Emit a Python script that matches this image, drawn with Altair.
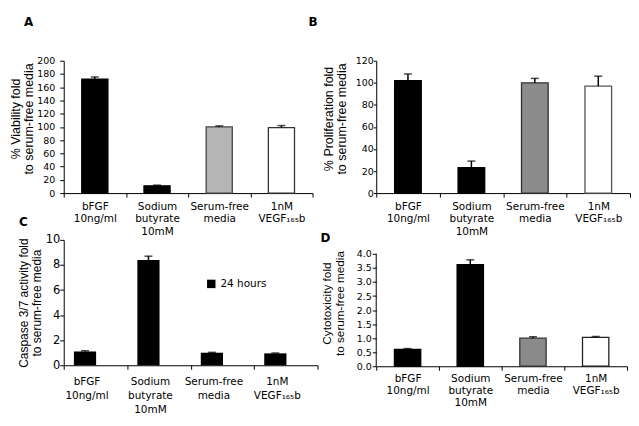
import altair as alt
import pandas as pd

categories = ["bFGF|10ng/ml", "Sodium|butyrate|10mM", "Serum-free|media", "1nM|VEGF₁₆₅b"]

viability = [172, 11, 100, 99]
viability_err = [3.5, 1.0, 1.5, 3.0]
proliferation = [102, 23, 100, 97]
proliferation_err = [6, 6, 4, 9]
caspase = [1.1, 8.4, 1.0, 0.95]
caspase_err = [0.06, 0.3, 0.03, 0.03]
cytotox = [0.6, 3.62, 1.0, 1.03]
cytotox_err = [0.03, 0.17, 0.05, 0.03]

fills_A = ["#000000", "#000000", "#b5b5b5", "#ffffff"]
fills_B = ["#000000", "#000000", "#8c8c8c", "#ffffff"]
fills_D = ["#000000", "#000000", "#8a8a8a", "#ffffff"]
strokes_A = ["#000000", "#000000", "#444444", "#333333"]
strokes_B = ["#000000", "#000000", "#333333", "#555555"]
strokes_D = ["#000000", "#000000", "#333333", "#222222"]

LABEL_FONT = "DejaVu Sans"
TITLE_FONT = "Liberation Sans"


def panel(values, errs, fills, strokes, width, height, ymax, yticks, yfmt, ytitle,
          letter, letter_dx, letter_offset, band=0.42, shift=0, label_shift=0,
          axis_top=None, legend_name=None, ylab_size=9.5, ylab_pad=5, ytitle_pad=1,
          ytick=4, ytitle_size=12.5, xlab_pad=4, xlab_lh=13, ytitle_y=None):
    df = pd.DataFrame({"cat": categories, "value": values, "err": errs})
    df["top"] = df["value"] + df["err"]
    df["series"] = legend_name if legend_name else "s"

    x = alt.X("cat:N", sort=categories,
              scale=alt.Scale(paddingInner=0, paddingOuter=0),
              axis=alt.Axis(title=None, labelExpr="split(datum.label, '|')",
                            tickBand="extent", labelAngle=0, labelOffset=label_shift,
                            labelLineHeight=xlab_lh, labelPadding=xlab_pad, tickSize=4,
                            labelFontSize=10.5))
    yscale = alt.Scale(domain=[0, ymax], nice=False, zero=True)
    yaxis_args = dict(values=yticks, format=yfmt, title=ytitle, tickSize=ytick,
                      labelPadding=ylab_pad, titlePadding=ytitle_pad,
                      domain=axis_top is None, titleFontSize=ytitle_size,
                      titleLineHeight=13, labelOverlap=False, labelFontSize=ylab_size)
    if ytitle_y is not None:
        yaxis_args["titleY"] = ytitle_y
    yaxis = alt.Axis(**yaxis_args)
    base = alt.Chart(df)
    if legend_name:
        color = alt.Color("series:N", scale=alt.Scale(domain=[legend_name], range=["#000000"]),
                          legend=alt.Legend(title=None, orient="none", legendX=143, legendY=39,
                                            symbolType="square", symbolSize=72,
                                            labelFontSize=10.5, labelFont=LABEL_FONT,
                                            labelColor="black", padding=0,
                                            symbolStrokeWidth=0))
        bars = base.mark_bar(width=alt.RelativeBandSize(band), xOffset=shift).encode(
            x=x, y=alt.Y("value:Q", scale=yscale, axis=yaxis), color=color)
    else:
        bars = base.mark_bar(width=alt.RelativeBandSize(band), xOffset=shift, strokeWidth=1.3).encode(
            x=x, y=alt.Y("value:Q", scale=yscale, axis=yaxis),
            color=alt.Color("cat:N", scale=alt.Scale(domain=categories, range=fills), legend=None),
            stroke=alt.Stroke("cat:N", scale=alt.Scale(domain=categories, range=strokes), legend=None))
    err = base.mark_rule(color="black", strokeWidth=1.5, xOffset=shift).encode(
        x=x, y=alt.Y("value:Q", scale=yscale, axis=yaxis), y2="top:Q")
    cap = base.mark_tick(color="black", size=8, thickness=1.5, xOffset=shift).encode(
        x=x, y=alt.Y("top:Q", scale=yscale, axis=yaxis))
    layers = [bars, err, cap]
    if axis_top is not None:
        dom = alt.Chart(pd.DataFrame({"value": [0.0], "y1": [axis_top]})).mark_rule(
            color="black", strokeWidth=1).encode(
            x=alt.value(0), y=alt.Y("value:Q", scale=yscale, axis=yaxis), y2="y1:Q")
        layers.append(dom)
    return alt.layer(*layers).properties(
        width=width, height=height,
        title=alt.TitleParams(letter, anchor="start", frame="group", dx=letter_dx,
                              offset=letter_offset, fontSize=12, fontWeight="bold",
                              font=LABEL_FONT))


A = panel(viability, viability_err, fills_A, strokes_A, 250, 133, 200,
          list(range(0, 201, 20)), "d", ["% Viability fold", "to serum-free media"],
          "A", -40, 27, ylab_pad=5, ytitle_pad=1, ytitle_y=58)
B = panel(proliferation, proliferation_err, fills_B, strokes_B, 255, 133, 120,
          list(range(0, 121, 20)), "d", ["% Proliferation fold", "to serum-free media"],
          "B", -68, 27, ylab_pad=0, ytitle_pad=7, ytick=3, ytitle_y=58)
C = panel(caspase, caspase_err, fills_A, strokes_A, 255, 126, 10,
          list(range(0, 11, 2)), "d", ["Caspase 3/7 activity fold", "to serum-free media"],
          "C", -45, 5, band=0.35, shift=-10.5, label_shift=-9, legend_name="24 hours",
          ylab_size=11.5, ylab_pad=0, ytitle_pad=2, ytitle_size=12, xlab_pad=7, xlab_lh=14)
D = panel(cytotox, cytotox_err, fills_D, strokes_D, 252, 127, 4.5,
          [0, 0.5, 1.0, 1.5, 2.0, 2.5, 3.0, 3.5, 4.0], ".1f",
          ["Cytotoxicity fold", "to serum-free media"],
          "D", -56, -5, axis_top=4.0, ylab_pad=1, ytitle_pad=11, ytitle_size=11.8,
          xlab_pad=3, xlab_lh=12)

chart = alt.concat(A, B, C, D, columns=2, spacing={"row": 47, "column": 59},
                   bounds="flush").resolve_scale(
    color="independent", stroke="independent"
).resolve_legend(color="independent", stroke="independent").properties(
    padding={"left": 1, "top": 7, "right": 0, "bottom": 0}
).configure(font=LABEL_FONT).configure_view(stroke=None).configure_axis(
    titleFontWeight="normal",
    labelColor="black", titleColor="black", domainColor="black", tickColor="black",
    grid=False, labelFont=LABEL_FONT, titleFont=TITLE_FONT
).configure_title(color="black")

chart.save("out.html", embed_options={"renderer": "svg", "actions": False})
